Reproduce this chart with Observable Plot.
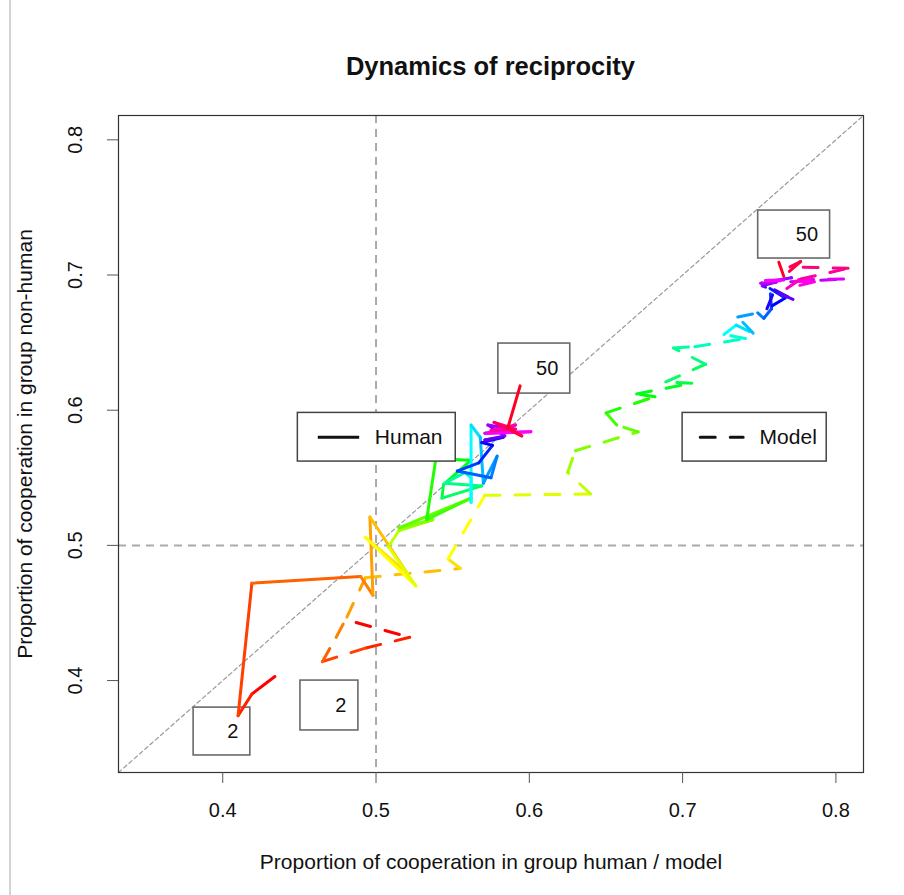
<!DOCTYPE html>
<html>
<head>
<meta charset="utf-8">
<script src="https://cdn.jsdelivr.net/npm/d3@7"></script>
<script src="https://cdn.jsdelivr.net/npm/@observablehq/plot@0.6"></script>
<style>
  html, body { margin: 0; padding: 0; background: #fff; }
  body { width: 904px; height: 895px; position: relative; overflow: hidden; font-family: "Liberation Sans", Arial, sans-serif; }
  #edge { position: absolute; left: 9px; top: 0; width: 2px; height: 895px; background: #d4d4d4; }
  #title { position: relative; height: 90px; }
  #title span { position: absolute; left: 118px; width: 745px; top: 50px; line-height: 32px; text-align: center;
    font-weight: bold; font-size: 25.5px; color: #111; }
</style>
</head>
<body>
<div id="edge"></div>
<div id="title"><span>Dynamics of reciprocity</span></div>
<div id="chart"></div>
<script>
// ---- data (proportions, rounds 2..50) ----
const axisLimits = [0.332, 0.818];
const xTicks = [0.4, 0.5, 0.6, 0.7, 0.8];
const yTicks = [0.4, 0.5, 0.6, 0.7, 0.8];

const humanX = [0.434, 0.419, 0.410, 0.419, 0.490, 0.498, 0.496, 0.520, 0.493, 0.526,
                0.508, 0.515, 0.537, 0.515, 0.562, 0.533, 0.539, 0.562, 0.544, 0.543,
                0.569, 0.545, 0.558, 0.562, 0.562, 0.562, 0.568, 0.570, 0.579, 0.575,
                0.553, 0.567, 0.576, 0.569, 0.583, 0.571, 0.584, 0.573, 0.589, 0.571,
                0.601, 0.573, 0.591, 0.575, 0.591, 0.577, 0.595, 0.586, 0.594];
const humanY = [0.403, 0.390, 0.374, 0.472, 0.477, 0.463, 0.521, 0.480, 0.506, 0.470,
                0.499, 0.511, 0.519, 0.513, 0.535, 0.519, 0.564, 0.563, 0.545, 0.535,
                0.544, 0.546, 0.554, 0.550, 0.532, 0.589, 0.580, 0.546, 0.566, 0.550,
                0.555, 0.561, 0.574, 0.576, 0.580, 0.578, 0.581, 0.589, 0.586, 0.583,
                0.584, 0.583, 0.589, 0.585, 0.586, 0.591, 0.581, 0.587, 0.618];

const modelX = [0.487, 0.522, 0.493, 0.465, 0.474, 0.481, 0.493, 0.555, 0.547, 0.571,
                0.640, 0.625, 0.630, 0.671, 0.657, 0.650, 0.682, 0.670, 0.706, 0.689,
                0.715, 0.694, 0.708, 0.741, 0.727, 0.735, 0.746, 0.736, 0.749, 0.753,
                0.758, 0.757, 0.767, 0.755, 0.760, 0.772, 0.752, 0.771, 0.751, 0.805,
                0.754, 0.786, 0.768, 0.777, 0.808, 0.770, 0.777, 0.766, 0.762];
const modelY = [0.443, 0.432, 0.424, 0.414, 0.432, 0.447, 0.476, 0.483, 0.490, 0.537,
                0.538, 0.554, 0.570, 0.584, 0.589, 0.598, 0.610, 0.612, 0.620, 0.621,
                0.634, 0.646, 0.647, 0.653, 0.656, 0.663, 0.657, 0.669, 0.672, 0.668,
                0.675, 0.690, 0.683, 0.675, 0.689, 0.682, 0.692, 0.698, 0.694, 0.697,
                0.696, 0.695, 0.690, 0.697, 0.705, 0.706, 0.710, 0.699, 0.712];

// round labels (boxes placed in data units, as R legend() boxes)
const roundLabelText = ["2", "2", "50", "50"];
const roundLabelX1 = [0.381, 0.4507, 0.5798, 0.7493];
const roundLabelX2 = [0.418, 0.4885, 0.6267, 0.7962];
const roundLabelY1 = [0.3446, 0.3631, 0.6123, 0.7122];
const roundLabelY2 = [0.380, 0.400, 0.6493, 0.7477];

// legends
const legendLabels = ["Human", "Model"];
const legendX1 = [0.449, 0.700];
const legendX2 = [0.552, 0.794];
const legendY1 = [0.562, 0.562];
const legendY2 = [0.598, 0.598];
const legendSampleX1 = [0.462, 0.7115];
const legendSampleX2 = [0.489, 0.7395];

// ---- build tables ----
function segments(xs, ys) {
  const n = xs.length - 1;
  const out = [];
  for (let i = 0; i < n; i++) {
    out.push({x1: xs[i], y1: ys[i], x2: xs[i + 1], y2: ys[i + 1],
              color: d3.hsl(360 * i / n, 1, 0.5).formatHex()});
  }
  return out;
}
const humanSegs = segments(humanX, humanY);
const modelSegs = segments(modelX, modelY);
const roundLabels = roundLabelText.map((t, i) => ({text: t, x1: roundLabelX1[i], x2: roundLabelX2[i], y1: roundLabelY1[i], y2: roundLabelY2[i]}));
const legends = legendLabels.map((t, i) => ({label: t, x1: legendX1[i], x2: legendX2[i], y1: legendY1[i], y2: legendY2[i],
  sx1: legendSampleX1[i], sx2: legendSampleX2[i], sy: (legendY1[i] + legendY2[i]) / 2}));

const chart = Plot.plot({
  width: 904,
  height: 805,
  marginTop: 25,
  marginBottom: 123,
  marginLeft: 118,
  marginRight: 41,
  x: {domain: axisLimits},
  y: {domain: axisLimits},
  color: {type: "identity"},
  style: {fontFamily: "'Liberation Sans', Arial, sans-serif", background: "white", color: "#111"},
  marks: [
    Plot.ruleX([0.5], {stroke: "#aaaaaa", strokeWidth: 2, strokeDasharray: "8,6"}),
    Plot.ruleY([0.5], {stroke: "#aaaaaa", strokeWidth: 2, strokeDasharray: "8,6"}),
    Plot.line([[axisLimits[0], axisLimits[0]], [axisLimits[1], axisLimits[1]]],
      {stroke: "#999", strokeWidth: 1.2, strokeDasharray: "4,3"}),
    // round labels
    Plot.rect(roundLabels, {x1: "x1", x2: "x2", y1: "y1", y2: "y2", fill: "white", stroke: "#6a6a6a", strokeWidth: 1.6}),
    Plot.text(roundLabels, {x: "x2", y: d => (d.y1 + d.y2) / 2, text: "text", textAnchor: "end", dx: -12, fontSize: 20, fill: "#111"}),
    // paths
    Plot.link(modelSegs, {x1: "x1", y1: "y1", x2: "x2", y2: "y2", stroke: "color",
      strokeWidth: 3, strokeDasharray: "15,15", strokeLinecap: "round"}),
    Plot.link(humanSegs, {x1: "x1", y1: "y1", x2: "x2", y2: "y2", stroke: "color",
      strokeWidth: 3, strokeLinecap: "round", strokeLinejoin: "round"}),
    // legends
    Plot.rect(legends, {x1: "x1", x2: "x2", y1: "y1", y2: "y2", fill: "white", stroke: "#444", strokeWidth: 1.5}),
    Plot.link(legends.filter(d => d.label === "Human"), {x1: "sx1", x2: "sx2", y1: "sy", y2: "sy", stroke: "#111", strokeWidth: 3}),
    Plot.link(legends.filter(d => d.label === "Model"), {x1: "sx1", x2: "sx2", y1: "sy", y2: "sy", stroke: "#111", strokeWidth: 3,
      strokeDasharray: "15,15", strokeLinecap: "round"}),
    Plot.text(legends, {x: "x1", y: "sy", text: "label", dx: 77, textAnchor: "start", fontSize: 21, fill: "#111"}),
    // frame and axes
    Plot.frame({stroke: "#333", strokeWidth: 1.2}),
    Plot.axisX({ticks: xTicks, tickSize: 11, tickFormat: () => "", stroke: "#555", label: null}),
    Plot.axisY({ticks: yTicks, tickSize: 11, tickFormat: () => "", stroke: "#555", label: null}),
    Plot.text(xTicks, {x: d => d, frameAnchor: "bottom", dy: 38, lineAnchor: "middle", textAnchor: "middle",
      text: d => d.toFixed(1), fontSize: 20, fill: "#111"}),
    Plot.text(yTicks, {y: d => d, frameAnchor: "left", dx: -43, rotate: -90, lineAnchor: "middle", textAnchor: "middle",
      text: d => d.toFixed(1), fontSize: 20, fill: "#111"}),
    Plot.text(["Proportion of cooperation in group human / model"], {frameAnchor: "bottom", dy: 90,
      lineAnchor: "middle", textAnchor: "middle", text: d => d, fontSize: 21, fill: "#111"}),
    Plot.text(["Proportion of cooperation in group non-human"], {frameAnchor: "left", dx: -93, rotate: -90,
      lineAnchor: "middle", textAnchor: "middle", text: d => d, fontSize: 21, fill: "#111"})
  ]
});
document.getElementById("chart").appendChild(chart);
</script>
</body>
</html>
